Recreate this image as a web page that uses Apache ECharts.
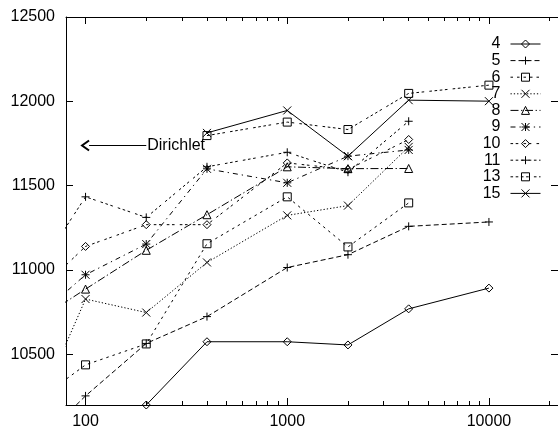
<!DOCTYPE html>
<html>
<head>
<meta charset="utf-8">
<script src="https://cdn.jsdelivr.net/npm/echarts@6/dist/echarts.min.js"></script>
<style>
  html, body { margin: 0; padding: 0; background: #fff; }
  #chart { width: 558px; height: 430px; }
</style>
</head>
<body>
<div id="chart"></div>
<script>
// x positions shared by all series (log axis)
const xValues = [50, 100, 200, 400, 1000, 2000, 4000, 10000]

const seriesNames = ['4', '5', '6', '7', '8', '9', '10', '11', '13', '15']
const s4 = [null, null, 10200, 10575, 10575, 10556, 10770, 10893]
const s5 = [9900, 10254, 10565, 10724, 11015, 11091, 11259, 11285]
const s6 = [10172, 10438, 10562, 11156, 11434, 11137, 11398, null]
const s7 = [10004, 10828, 10748, 11045, 11324, 11382, 11730, null]
const s8 = [10654, 10887, 11117, 11328, 11612, 11601, 11602, null]
const s9 = [10657, 10972, 11154, 11600, 11517, 11675, 11712, null]
const s10 = [10796, 11140, 11269, 11269, 11635, 11596, 11774, null]
const s11 = [10879, 11434, 11312, 11612, 11698, 11580, 11882, null]
const s13 = [null, null, null, 11797, 11877, 11833, 12047, 12096]
const s15 = [null, null, null, 11813, 11946, 11675, 12007, 12001]
const seriesValues = [s4, s5, s6, s7, s8, s9, s10, s11, s13, s15]

const xMajorTicks = [100, 1000, 10000]
const xMinorTicks = [200, 300, 400, 500, 600, 700, 800, 900,
  2000, 3000, 4000, 5000, 6000, 7000, 8000, 9000, 20000]
const yTicks = [10500, 11000, 11500, 12000, 12500]

const dirichletArrow = [[100, 11738], [200, 11738]]
const dirichletText = 'Dirichlet'

const X_MIN = 80
const X_MAX = 22000
const Y_MIN = 10200
const Y_MAX = 12500
const FONT = '"Liberation Sans", Arial, sans-serif'

// gnuplot-like point types
const P_DIAMOND = 'path://M5,0L10,5L5,10L0,5Z'
const P_PLUS = 'path://M0,5L10,5M5,0L5,10'
const P_BOX = 'path://M0,0L10,0L10,10L0,10Z'
const P_CROSS = 'path://M0,0L10,10M10,0L0,10'
const P_TRI = 'path://M5,0L10,8.66L0,8.66Z'
const P_STAR = 'path://M0,5L10,5M5,0L5,10M0,0L10,10M10,0L0,10'

const styles = [
  { symbol: P_DIAMOND, dash: 'solid' },
  { symbol: P_PLUS, dash: [5, 3] },
  { symbol: P_BOX, dash: [2.5, 4] },
  { symbol: P_CROSS, dash: [1.3, 2] },
  { symbol: P_TRI, dash: [8, 2.6, 1.3, 2.6] },
  { symbol: P_STAR, dash: [5, 4, 1.3, 4] },
  { symbol: P_DIAMOND, dash: [2.6, 2.6, 2.6, 5.2] },
  { symbol: P_PLUS, dash: [2.6, 2.6, 2.6, 2.6, 2.6, 5.2] },
  { symbol: P_BOX, dash: [2.6, 2.6, 2.6, 2.6, 2.6, 2.6, 2.6, 5.2] },
  { symbol: P_CROSS, dash: 'solid' },
]

const chart = echarts.init(document.getElementById('chart'))

const logAxis = (extra) => Object.assign({
  type: 'log',
  logBase: 10,
  min: X_MIN,
  max: X_MAX,
  splitLine: { show: false },
  axisLine: { show: true, lineStyle: { color: '#000', width: 1 } },
  axisLabel: { show: false },
}, extra)

const valAxis = (extra) => Object.assign({
  type: 'value',
  min: Y_MIN,
  max: Y_MAX,
  splitLine: { show: false },
  axisLine: { show: true, lineStyle: { color: '#000', width: 1 } },
  axisTick: { show: true, inside: true, length: 7, customValues: yTicks, lineStyle: { color: '#000' } },
  axisLabel: { show: false },
}, extra)

const pointStyle = { color: 'none', borderColor: '#000', borderWidth: 1 }

const lineSeries = seriesNames.map((name, i) => ({
  name: name,
  type: 'line',
  xAxisIndex: 0,
  yAxisIndex: 0,
  data: xValues.map((x, j) => [x, seriesValues[i][j]]).filter(p => p[1] != null),
  symbol: styles[i].symbol,
  symbolSize: 8,
  showAllSymbol: true,
  clip: true,
  itemStyle: pointStyle,
  lineStyle: { color: '#000', width: 1, type: styles[i].dash },
  emphasis: { disabled: true },
  animation: false,
}))

const option = {
  animation: false,
  backgroundColor: '#fff',
  grid: { left: 66, right: 0, top: 17, bottom: 25 },
  legend: {
    data: seriesNames.map((name, i) => ({
      name: name,
      itemStyle: pointStyle,
      lineStyle: { color: '#000', width: 1, type: styles[i].dash },
    })),
    orient: 'vertical',
    align: 'right',
    right: 17,
    top: 36,
    padding: 0,
    itemWidth: 30,
    itemHeight: 10,
    itemGap: 0.6,
    selectedMode: false,
    textStyle: { fontSize: 16, color: '#000', fontFamily: FONT, padding: [0, 5, 0, 0] },
  },
  xAxis: [
    logAxis({
      position: 'bottom',
      axisTick: { show: true, inside: true, length: 7, customValues: xMajorTicks, lineStyle: { color: '#000' } },
      axisLabel: {
        show: true, customValues: xMajorTicks, margin: 9,
        fontSize: 16, color: '#000', fontFamily: FONT,
        formatter: (v) => String(Math.round(v)),
      },
    }),
    logAxis({
      position: 'bottom',
      axisLine: { show: false },
      axisTick: { show: true, inside: true, length: 4, customValues: xMinorTicks, lineStyle: { color: '#000' } },
    }),
    logAxis({
      position: 'top',
      axisTick: { show: true, inside: true, length: 7, customValues: xMajorTicks, lineStyle: { color: '#000' } },
    }),
    logAxis({
      position: 'top',
      axisLine: { show: false },
      axisTick: { show: true, inside: true, length: 4, customValues: xMinorTicks, lineStyle: { color: '#000' } },
    }),
  ],
  yAxis: [
    valAxis({
      position: 'left',
      axisLabel: {
        show: true, customValues: yTicks, margin: 11,
        fontSize: 16, color: '#000', fontFamily: FONT,
        formatter: (v) => String(v),
      },
    }),
    valAxis({ position: 'right' }),
  ],
  series: lineSeries.concat([{
    name: 'annotation',
    type: 'line',
    data: [],
    silent: true,
    markLine: {
      silent: true,
      animation: false,
      symbol: ['emptypath://M0,10L5,0L10,10', 'none'],
      symbolSize: [10, 7],
      lineStyle: { color: '#000', width: 1, type: 'solid' },
      label: {
        show: true, position: 'end', distance: 1,
        formatter: dirichletText,
        color: '#000', fontSize: 16, fontFamily: FONT,
      },
      emphasis: { disabled: true },
      data: [[{ coord: dirichletArrow[0] }, { coord: dirichletArrow[1] }]],
    },
  }]),
}

chart.setOption(option)
</script>
</body>
</html>
